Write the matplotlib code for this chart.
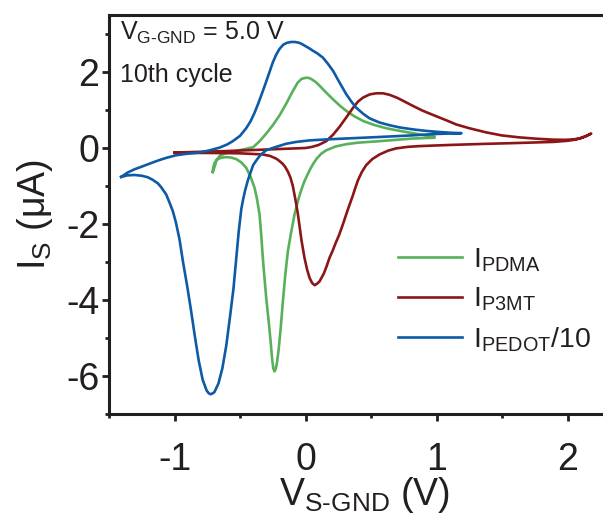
import numpy as np
import matplotlib
matplotlib.use("Agg")
import matplotlib.pyplot as plt
from matplotlib.ticker import MultipleLocator

plt.rcParams["font.family"] = ["Liberation Sans", "DejaVu Sans"]
plt.rcParams["mathtext.fontset"] = "custom"
plt.rcParams["mathtext.rm"] = "Liberation Sans"
plt.rcParams["mathtext.it"] = "Liberation Sans:italic"
plt.rcParams["mathtext.bf"] = "Liberation Sans:bold"

# PEDOT / 10 (blue): forward branch then reverse branch
pedot_x_fwd = [-1.407, -1.36, -1.305, -1.25, -1.204, -1.15, -1.10, -1.063, -0.987, -0.90,
               -0.81, -0.73, -0.656, -0.60, -0.555, -0.50, -0.453, -0.42, -0.39, -0.36,
               -0.33, -0.30, -0.275, -0.25, -0.225, -0.20, -0.17, -0.14, -0.11, -0.08,
               -0.05, -0.03, 0.0, 0.03, 0.056, 0.09, 0.132, 0.17, 0.21, 0.26, 0.31, 0.35,
               0.387, 0.44, 0.489, 0.565, 0.641, 0.72, 0.819, 0.92, 1.023, 1.11, 1.19]
pedot_y_fwd = [-0.76, -0.65, -0.56, -0.49, -0.43, -0.36, -0.30, -0.26, -0.19, -0.15,
               -0.12, -0.06, 0.01, 0.09, 0.18, 0.32, 0.52, 0.70, 0.92, 1.18,
               1.46, 1.75, 2.00, 2.25, 2.45, 2.60, 2.72, 2.77, 2.79, 2.79,
               2.77, 2.74, 2.68, 2.62, 2.56, 2.49, 2.38, 2.22, 2.03, 1.72, 1.42, 1.22,
               1.06, 0.90, 0.78, 0.67, 0.60, 0.54, 0.49, 0.45, 0.42, 0.40, 0.39]
pedot_x_rev = [1.19, 1.0, 0.8, 0.565, 0.37, 0.183, 0.03, -0.071, -0.15, -0.224, -0.26,
               -0.30, -0.34, -0.37, -0.40, -0.42, -0.44, -0.46, -0.475, -0.49, -0.51,
               -0.53, -0.55, -0.575, -0.605, -0.635, -0.665, -0.695, -0.71, -0.725,
               -0.74, -0.755, -0.785, -0.815, -0.845, -0.875, -0.905, -0.935, -0.962,
               -0.99, -1.013, -1.04, -1.064, -1.10, -1.127, -1.17, -1.204, -1.25,
               -1.305, -1.36, -1.407]
pedot_y_rev = [0.39, 0.37, 0.33, 0.29, 0.26, 0.23, 0.20, 0.16, 0.11, 0.03, -0.01,
               -0.06, -0.17, -0.30, -0.45, -0.65, -0.85, -1.10, -1.33, -1.60, -2.20,
               -2.95, -3.70, -4.40, -5.20, -5.80, -6.20, -6.42, -6.46, -6.48,
               -6.45, -6.38, -6.10, -5.60, -4.95, -4.25, -3.60, -3.00, -2.40,
               -1.95, -1.66, -1.42, -1.22, -1.04, -0.93, -0.83, -0.77, -0.73,
               -0.71, -0.72, -0.76]

# PDMA (green)
pdma_x_fwd = [-0.708, -0.69, -0.68, -0.65, -0.605, -0.555, -0.478, -0.40, -0.35, -0.30,
              -0.25, -0.20, -0.15, -0.10, -0.06, -0.03, 0.005, 0.03, 0.05, 0.08, 0.107,
              0.16, 0.21, 0.26, 0.31, 0.37, 0.44, 0.52, 0.616, 0.72, 0.819, 0.90, 0.985]
pdma_y_fwd = [-0.63, -0.45, -0.32, -0.19, -0.13, -0.09, -0.04, 0.02, 0.18, 0.38,
              0.60, 0.85, 1.15, 1.48, 1.72, 1.82, 1.85, 1.84, 1.80, 1.73, 1.64,
              1.45, 1.28, 1.12, 0.98, 0.84, 0.71, 0.61, 0.52, 0.45, 0.39, 0.34, 0.30]
pdma_x_rev = [0.985, 0.82, 0.565, 0.40, 0.31, 0.23, 0.158, 0.12, 0.085, 0.056, 0.035,
              0.015, -0.005, -0.02, -0.04, -0.06, -0.084, -0.11, -0.135, -0.155, -0.173,
              -0.19, -0.205, -0.218, -0.228, -0.237, -0.246, -0.255, -0.265, -0.28,
              -0.30, -0.315, -0.326, -0.338, -0.351, -0.37, -0.389, -0.42, -0.453,
              -0.49, -0.53, -0.57, -0.605, -0.635, -0.656, -0.68, -0.695, -0.705, -0.708]
pdma_y_rev = [0.27, 0.25, 0.18, 0.14, 0.10, 0.04, -0.06, -0.15, -0.28, -0.43, -0.56,
              -0.70, -0.85, -0.98, -1.18, -1.42, -1.75, -2.22, -2.72, -3.35, -4.04,
              -4.75, -5.30, -5.65, -5.82, -5.88, -5.80, -5.55, -5.15, -4.60,
              -3.95, -3.35, -2.89, -2.30, -1.75, -1.35, -1.05, -0.75, -0.52,
              -0.38, -0.29, -0.25, -0.24, -0.25, -0.27, -0.32, -0.40, -0.52, -0.63]

# P3MT (dark red)
p3mt_x_fwd = [-1.0, -0.6, -0.3, 0.0, 0.05, 0.1, 0.158, 0.21, 0.26, 0.31, 0.361, 0.40,
              0.44, 0.49, 0.54, 0.59, 0.641, 0.70, 0.768, 0.83, 0.895, 0.98, 1.074,
              1.15, 1.25, 1.38, 1.50, 1.63, 1.76, 1.89, 1.98, 2.04, 2.09, 2.14, 2.18]
p3mt_y_fwd = [-0.12, -0.08, -0.04, 0.0, 0.03, 0.08, 0.18, 0.35, 0.56, 0.80, 1.05, 1.22,
              1.33, 1.41, 1.44, 1.44, 1.40, 1.32, 1.20, 1.09, 0.98, 0.86, 0.73,
              0.62, 0.52, 0.41, 0.33, 0.28, 0.245, 0.22, 0.215, 0.225, 0.25, 0.31, 0.38]
p3mt_x_rev = [2.18, 2.15, 2.11, 2.06, 2.0, 1.89, 1.6, 1.38, 1.1, 0.87, 0.78, 0.692,
              0.63, 0.565, 0.51, 0.463, 0.43, 0.40, 0.38, 0.361, 0.32, 0.285, 0.255,
              0.23, 0.205, 0.183, 0.16, 0.14, 0.107, 0.085, 0.069, 0.05, 0.031, 0.012,
              -0.008, -0.03, -0.046, -0.06, -0.075, -0.097, -0.115, -0.135, -0.155,
              -0.173, -0.2, -0.224, -0.27, -0.326, -0.5, -0.75, -1.0]
p3mt_y_rev = [0.38, 0.33, 0.27, 0.22, 0.19, 0.16, 0.13, 0.11, 0.08, 0.05, 0.03, -0.01,
              -0.07, -0.17, -0.29, -0.45, -0.63, -0.85, -1.05, -1.25, -1.65, -2.01, -2.30,
              -2.50, -2.72, -2.89, -3.12, -3.30, -3.51, -3.58, -3.61, -3.55, -3.42, -3.20,
              -2.89, -2.45, -2.05, -1.70, -1.40, -1.00, -0.78, -0.62, -0.50,
              -0.42, -0.34, -0.28, -0.21, -0.17, -0.14, -0.13, -0.13]

c_pdma = "#58b15a"
c_p3mt = "#8c1518"
c_pedot = "#0d5aa5"
txt = "#231f20"

fig = plt.figure(figsize=(6.03, 5.14), dpi=100)
ax = fig.add_axes([109 / 603, 100 / 514, 511 / 603, 399 / 514])

lw = 1.9
ax.plot(pdma_x_fwd + pdma_x_rev, pdma_y_fwd + pdma_y_rev, color=c_pdma, lw=lw,
        label=r"I$_{\mathrm{PDMA}}$", solid_joinstyle="round")
ax.plot(p3mt_x_fwd + p3mt_x_rev, p3mt_y_fwd + p3mt_y_rev, color=c_p3mt, lw=lw,
        label=r"I$_{\mathrm{P3MT}}$", solid_joinstyle="round")
ax.plot(pedot_x_fwd + pedot_x_rev, pedot_y_fwd + pedot_y_rev, color=c_pedot, lw=lw,
        label=r"I$_{\mathrm{PEDOT}}$/10", solid_joinstyle="round")

ax.set_xlim(-1.5, 2.4)
ax.set_ylim(-7, 3.5)
ax.xaxis.set_major_locator(MultipleLocator(1))
ax.xaxis.set_minor_locator(MultipleLocator(0.5))
ax.yaxis.set_major_locator(MultipleLocator(2))
ax.yaxis.set_minor_locator(MultipleLocator(1))

for s in ax.spines.values():
    s.set_linewidth(2.2)
    s.set_color(txt)
ax.spines["right"].set_visible(False)
ax.tick_params(which="both", direction="out", width=2.0, color=txt, labelcolor=txt)
ax.tick_params(which="major", length=5, labelsize=27)
ax.tick_params(which="minor", length=3)
ax.tick_params(axis="x", which="major", pad=15)
ax.tick_params(axis="y", which="major", pad=2)
ax.set_yticks([-6, -4, -2, 0, 2])
ax.set_yticklabels(["-6", "-4", "-2", "0", "2"])
ax.set_xticks([-1, 0, 1, 2])
ax.set_xticklabels(["-1", "0", "1", "2"])

ax.set_xlabel(r"V$_{\mathrm{S}\text{-}\mathrm{GND}}$ (V)", fontsize=27, color=txt, labelpad=-2)
ax.set_ylabel(r"I$_{\mathrm{S}}$ (μA)", fontsize=27, color=txt, labelpad=8)

fig.text(120 / 603, (514 - 40) / 514, r"V$_{\mathrm{G}\text{-}\mathrm{GND}}$ = 5.0 V",
         fontsize=18, color=txt, va="baseline", ha="left")
fig.text(120 / 603, (514 - 82) / 514, "10th cycle",
         fontsize=18, color=txt, va="baseline", ha="left")

ax.legend(loc="center left", bbox_to_anchor=(398 / 603, (514 - 300) / 514),
          bbox_transform=fig.transFigure, frameon=False, fontsize=20.5,
          handlelength=2.25, handletextpad=0.4, labelspacing=0.42,
          borderpad=0, borderaxespad=0, labelcolor=txt)

fig.savefig("out.png", dpi=100)
